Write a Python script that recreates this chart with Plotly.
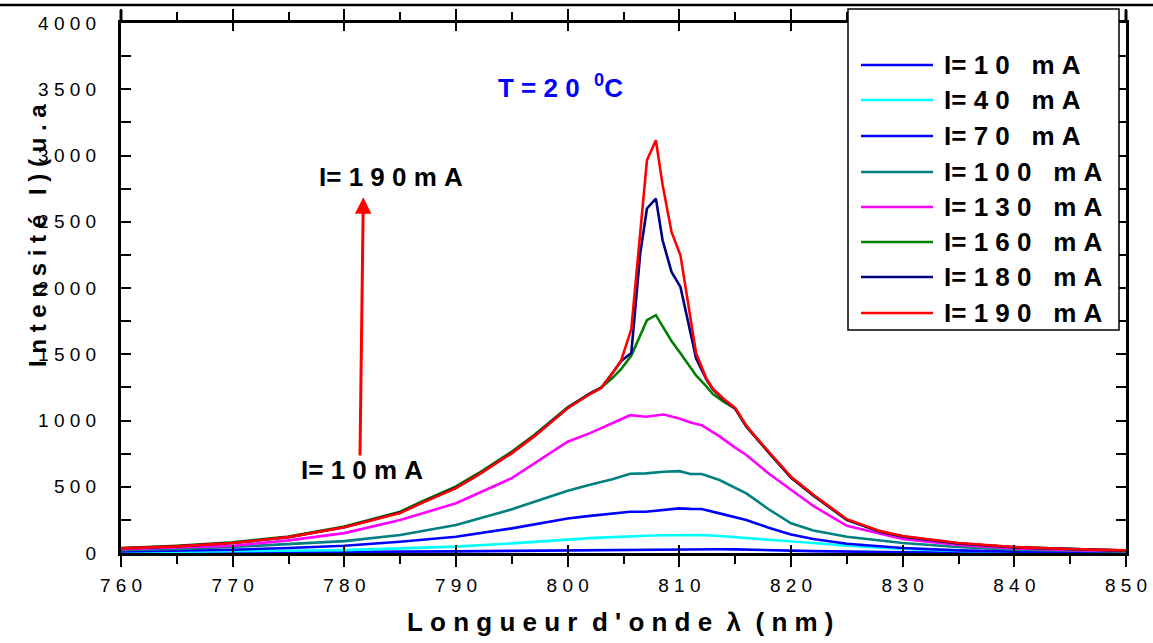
import plotly.graph_objects as go

# ---------------- data ----------------
wl_peak = [760, 765, 770, 775, 780, 783, 785, 787, 790, 792, 795, 797, 800, 802, 803, 804,
           804.8, 805.7, 806.5, 807.1, 807.9, 808.5, 809.3, 810.1, 811.5, 812.4, 813, 814,
           815, 816, 817, 818, 820, 822, 825, 828, 830, 835, 840, 845, 850]
i190 = [35, 50, 75, 120, 195, 260, 302, 380, 490, 590, 754, 880, 1093, 1200, 1245, 1357,
        1455, 1690, 2430, 2964, 3115, 2780, 2423, 2247, 1508, 1320, 1240, 1160,
        1095, 960, 860, 765, 575, 440, 255, 165, 128, 75, 45, 30, 20]
i180 = [35, 50, 75, 120, 195, 262, 305, 382, 492, 592, 756, 882, 1095, 1202, 1247, 1357,
        1450, 1510, 2262, 2600, 2675, 2360, 2121, 2008, 1470, 1315, 1235, 1155,
        1090, 955, 855, 760, 570, 435, 250, 160, 125, 72, 43, 28, 18]
i160 = [38, 55, 80, 125, 200, 268, 312, 392, 502, 602, 765, 890, 1100, 1205, 1248, 1320,
        1389, 1490, 1650, 1757, 1795, 1713, 1600, 1508, 1340, 1260, 1200, 1140,
        1090, 955, 855, 760, 570, 435, 250, 160, 125, 72, 43, 28, 18]

wl_low = [760, 765, 770, 775, 780, 785, 790, 795, 800, 802, 804, 805.6, 807, 808.6, 810,
          811, 812, 813.6, 815, 816, 818, 820, 822, 825, 830, 835, 840, 845, 850]
i130 = [28, 40, 55, 95, 150, 249, 375, 565, 840, 905, 980, 1040, 1028, 1045, 1015,
        985, 965, 880, 795, 740, 600, 475, 355, 205, 105, 60, 35, 22, 15]
i100 = [22, 30, 45, 65, 90, 136, 211, 330, 470, 515, 556, 598, 601, 613, 618,
        596, 596, 551, 490, 450, 330, 224, 170, 123, 75, 45, 25, 15, 10]
i70 = [12, 18, 25, 38, 55, 85, 123, 186, 261, 280, 300, 311, 311, 325, 337,
       333, 332, 299, 270, 249, 190, 140, 105, 70, 38, 20, 10, 6, 4]
i40 = [5, 8, 12, 17, 22, 35, 48, 73, 103, 112, 120, 128, 130, 134, 136,
       136, 136, 128, 120, 112, 100, 88, 75, 55, 30, 15, 8, 5, 4]
i10 = [2, 3, 4, 5, 7, 9, 12, 16, 20, 22, 24, 25, 26, 28, 30,
       30, 30, 28, 27, 26, 22, 18, 14, 10, 6, 4, 3, 2, 1]

series_names = ["I= 1 0  m A", "I= 4 0  m A", "I= 7 0  m A", "I= 1 0 0  m A",
                "I= 1 3 0  m A", "I= 1 6 0  m A", "I= 1 8 0  m A", "I= 1 9 0  m A"]
series_colors = ["#0000FF", "#00FFFF", "#0000FF", "#008080",
                 "#FF00FF", "#008000", "#000080", "#FF0000"]
series_x = [wl_low, wl_low, wl_low, wl_low, wl_low, wl_peak, wl_peak, wl_peak]
series_y = [i10, i40, i70, i100, i130, i160, i180, i190]

x_ticks = [760, 770, 780, 790, 800, 810, 820, 830, 840, 850]
x_ticktext = ["7 6 0", "7 7 0", "7 8 0", "7 9 0", "8 0 0", "8 1 0", "8 2 0", "8 3 0", "8 4 0", "8 5 0"]
y_ticks = [0, 500, 1000, 1500, 2000, 2500, 3000, 3500, 4000]
y_ticktext = ["0", "5 0 0", "1 0 0 0", "1 5 0 0", "2 0 0 0", "2 5 0 0", "3 0 0 0", "3 5 0 0", "4 0 0 0"]

x_title = "L o n g u e u r  d ' o n d e  λ  ( n m )"
y_title = "I n t e n s i t é   I ) ( u . a"
temp_label = "T = 2 0  <sup>0</sup>C"
arrow_top_label = "I= 1 9 0 m A"
arrow_bottom_label = "I= 1 0 m A"

NB = "\u00a0"


def spaced(s, sep=NB):
    return s.replace(" ", sep)


FONT = "Liberation Sans Narrow, Arial Narrow, Liberation Sans, Arial, sans-serif"

# ---------------- figure ----------------
fig = go.Figure()
for name, col, xs, ys in zip(series_names, series_colors, series_x, series_y):
    fig.add_trace(go.Scatter(x=xs, y=ys, mode="lines", name=name,
                             line=dict(color=col, width=2.6), showlegend=False))

# invisible trace to activate overlay axis for inside major x ticks
fig.add_trace(go.Scatter(x=[760, 850], y=[0, 0], xaxis="x2", mode="lines",
                         line=dict(width=0), hoverinfo="skip", showlegend=False))

W, H = 1153, 643
ML, MR, MT, MB = 121, 27, 23, 90
pw, ph = W - ML - MR, H - MT - MB


def px2paper_x(px):
    return (px - ML) / pw


def px2paper_y(py):
    return (H - MB - py) / ph


fig.update_layout(
    width=W, height=H,
    margin=dict(l=ML, r=MR, t=MT, b=MB, autoexpand=False),
    plot_bgcolor="white", paper_bgcolor="white",
    font=dict(family=FONT, color="black"),
    xaxis=dict(range=[760, 850], showline=True, linecolor="black", linewidth=3, mirror="ticks",
               tickmode="array", tickvals=x_ticks, ticktext=[spaced(t) for t in x_ticktext],
               ticks="outside", ticklen=11, tickwidth=2, tickcolor="black",
               minor=dict(dtick=5, tick0=760, ticks="outside", ticklen=8, tickwidth=2, tickcolor="black"),
               showgrid=False, zeroline=False, tickfont=dict(size=19, family=FONT),
               ticklabelstandoff=2, automargin=False),
    xaxis2=dict(range=[760, 850], overlaying="x", side="bottom", showline=False,
                tickmode="array", tickvals=x_ticks, showticklabels=False,
                ticks="inside", ticklen=8, tickwidth=2, tickcolor="black", mirror="ticks",
                showgrid=False, zeroline=False, automargin=False),
    yaxis=dict(range=[0, 4000], showline=True, linecolor="black", linewidth=3, mirror="ticks",
               tickmode="array", tickvals=y_ticks, ticktext=[spaced(t) for t in y_ticktext],
               ticks="inside", ticklen=10, tickwidth=2, tickcolor="black",
               minor=dict(dtick=250, tick0=0, ticks="inside", ticklen=10, tickwidth=2, tickcolor="black"),
               showgrid=False, zeroline=False, tickfont=dict(size=19, family=FONT),
               ticklabelstandoff=18, automargin=False),
    showlegend=False,
)

shapes = []
# top page rule
shapes.append(dict(type="line", xref="paper", yref="paper",
                   x0=px2paper_x(0), x1=px2paper_x(W), y0=px2paper_y(5), y1=px2paper_y(5),
                   line=dict(color="black", width=2.5), layer="above"))
# axis extensions above the plot
for px in (ML, W - MR):
    shapes.append(dict(type="line", xref="paper", yref="paper",
                       x0=px2paper_x(px), x1=px2paper_x(px), y0=1, y1=px2paper_y(10),
                       line=dict(color="black", width=3), layer="above"))
# legend box
shapes.append(dict(type="rect", xref="paper", yref="paper",
                   x0=px2paper_x(848), x1=px2paper_x(1119), y0=px2paper_y(330), y1=px2paper_y(9),
                   line=dict(color="black", width=1.5), fillcolor="white", layer="above"))
annotations = []
legend_rows = [65, 100, 136, 172, 207, 242, 277, 313]
for name, col, ry in zip(series_names, series_colors, legend_rows):
    shapes.append(dict(type="line", xref="paper", yref="paper",
                       x0=px2paper_x(861), x1=px2paper_x(933), y0=px2paper_y(ry), y1=px2paper_y(ry),
                       line=dict(color=col, width=2.6), layer="above"))
    annotations.append(dict(xref="paper", yref="paper", x=px2paper_x(942), y=px2paper_y(ry),
                            xanchor="left", yanchor="middle", showarrow=False,
                            text="<b>" + spaced(name.replace("  ", "   ")) + "</b>",
                            font=dict(size=26, family=FONT, color="black")))

# axis titles
annotations.append(dict(xref="paper", yref="paper", x=px2paper_x(620), y=px2paper_y(622),
                        xanchor="center", yanchor="middle", showarrow=False,
                        text="<b>" + spaced(x_title) + "</b>",
                        font=dict(size=26, family=FONT, color="black")))
annotations.append(dict(xref="paper", yref="paper", x=px2paper_x(37), y=px2paper_y(236),
                        xanchor="center", yanchor="middle", showarrow=False, textangle=-90,
                        text="<b>" + spaced(y_title) + "</b>",
                        font=dict(size=24, family=FONT, color="black")))
# temperature label
annotations.append(dict(x=799.4, y=3520, xref="x", yref="y", showarrow=False,
                        text="<b>" + spaced(temp_label) + "</b>",
                        font=dict(size=26, family=FONT, color="#0000FF")))
# arrow
annotations.append(dict(x=781.7, y=2685, ax=781.4, ay=724, xref="x", yref="y",
                        axref="x", ayref="y", text="", showarrow=True,
                        arrowhead=2, arrowsize=1.1, arrowwidth=3, arrowcolor="#FF0000", standoff=0))
annotations.append(dict(x=784.2, y=2836, xref="x", yref="y", showarrow=False,
                        text="<b>" + spaced(arrow_top_label) + "</b>",
                        font=dict(size=26, family=FONT, color="black")))
annotations.append(dict(x=781.6, y=626, xref="x", yref="y", showarrow=False,
                        text="<b>" + spaced(arrow_bottom_label) + "</b>",
                        font=dict(size=26, family=FONT, color="black")))

fig.update_layout(shapes=shapes, annotations=annotations)
fig.write_html("out.html")
